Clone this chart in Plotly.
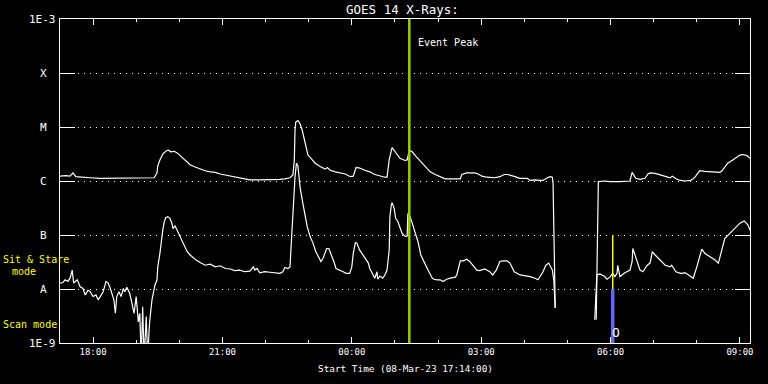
import math
import pandas as pd
import plotly.graph_objects as go

# ---------------- data ----------------
start_time = "2023-03-08 17:14:00"
end_time = "2023-03-09 09:14:00"

# long channel (1-8 A): minutes after start, log10 flux (W/m^2); None = data gap
long_minutes = [
    0, 8, 14, 18, 22, 28, 42, 56, 70, 84,
    93, 97, 111, 125, 131, 135, 136, 139, 143, 148,
    151, 154, 159, 163, 170, 175, 181, 188, 195, 202,
    209, 216, 223, 230, 237, 250, 264, 278, 292, 306,
    313, 320, 324, 326, 327, 328, 331, 334, 337, 341,
    345, 351, 355, 362, 369, 372, 376, 383, 390, 397,
    404, 408, 412, 417, 424, 431, 438, 445, 452, 455,
    458, 462, 466, 470, 473, 480, 483, 486, 490, 495,
    501, 508, 515, 522, 529, 536, 557, 559, 566, 577,
    582, 587, 594, 605, 612, 618, 623, 629, 633, 640,
    650, 654, 661, 668, 672, 678, 682, 685, 686, 689,
    716, 746, 749, 758, 765, 779, 790, 793, 796, 801,
    807, 814, 818, 821, 828, 835, 842, 849, 852, 857,
    863, 870, 877, 881, 884, 888, 890, 897, 904, 911,
    918, 921, 925, 929, 936, 943, 946, 950, 956, 960,
]
long_log10_flux = [
    -5.91, -5.90, -5.91, -5.85, -5.92, -5.93, -5.94, -5.95, -5.95, -5.95,
    -5.94, -5.95, -5.95, -5.95, -5.94, -5.85, -5.72, -5.61, -5.50, -5.44,
    -5.43, -5.46, -5.45, -5.48, -5.56, -5.63, -5.70, -5.74, -5.78, -5.81,
    -5.83, -5.84, -5.87, -5.89, -5.91, -5.94, -5.98, -5.98, -5.98, -5.97,
    -5.96, -5.94, -5.89, -5.61, -5.06, -4.91, -4.88, -4.94, -5.06, -5.30,
    -5.52, -5.61, -5.67, -5.73, -5.78, -5.75, -5.80, -5.83, -5.85, -5.87,
    -5.92, -5.91, -5.75, -5.76, -5.80, -5.83, -5.88, -5.91, -5.93, -5.93,
    -5.61, -5.38, -5.46, -5.52, -5.58, -5.62, -5.61, -5.43, -5.46, -5.54,
    -5.63, -5.74, -5.83, -5.88, -5.92, -5.96, -5.96, -5.88, -5.85, -5.85,
    -5.87, -5.91, -5.93, -5.94, -5.92, -5.88, -5.88, -5.91, -5.92, -5.95,
    -5.95, -5.99, -5.98, -5.99, -5.99, -5.94, -5.92, -5.93, -6.04, -8.35,
    None, -8.57, -6.01, -6.00, -6.01, -6.01, -6.01, -6.00, -5.84, -5.95,
    -5.97, -5.95, -5.87, -5.85, -5.86, -5.89, -5.92, -5.94, -5.91, -5.96,
    -5.99, -6.00, -5.99, -5.96, -5.92, -5.83, -5.81, -5.82, -5.83, -5.84,
    -5.84, -5.81, -5.74, -5.67, -5.61, -5.55, -5.52, -5.51, -5.53, -5.58,
]

# short channel (0.5-4 A): minutes after start, log10 flux (W/m^2); None = data gap
short_minutes = [
    0, 4, 7, 11, 14, 17, 19, 24, 28, 32,
    35, 39, 42, 46, 50, 53, 56, 60, 64, 67,
    70, 72, 75, 77, 79, 82, 85, 88, 90, 93,
    97, 100, 103, 106, 109, 111, 113, 115, 117, 120,
    122, 124, 125, 128, 129, 132, 135, 136, 139, 141,
    143, 145, 147, 150, 153, 156, 157, 160, 164, 168,
    173, 177, 181, 185, 189, 195, 202, 209, 216, 223,
    230, 237, 243, 250, 257, 264, 269, 271, 274, 278,
    285, 292, 299, 306, 310, 313, 317, 320, 321, 323,
    324, 327, 329, 331, 334, 337, 341, 344, 348, 352,
    356, 360, 363, 366, 369, 371, 374, 377, 381, 384,
    390, 394, 398, 403, 406, 408, 411, 413, 417, 420,
    424, 429, 431, 435, 438, 441, 442, 445, 449, 452,
    455, 458, 459, 461, 462, 465, 467, 470, 473, 476,
    480, 483, 484, 487, 490, 494, 498, 502, 507, 512,
    518, 520, 525, 529, 533, 538, 543, 550, 552, 557,
    561, 566, 570, 575, 580, 584, 591, 598, 602, 607,
    612, 616, 622, 626, 632, 640, 654, 661, 665, 672,
    676, 680, 685, 687, 689, 716, 744, 747, 751, 758,
    761, 765, 769, 772, 775, 776, 779, 786, 793, 796,
    797, 801, 807, 811, 817, 821, 824, 828, 835, 842,
    849, 851, 857, 863, 870, 877, 881, 886, 890, 893,
    897, 904, 911, 916, 921, 925, 932, 936, 940, 946,
    952, 957, 960,
]
short_log10_flux = [
    -7.89, -7.88, -7.83, -7.86, -7.80, -7.65, -7.89, -7.83, -7.96, -7.99,
    -8.11, -8.02, -8.05, -8.14, -8.11, -8.20, -8.14, -8.05, -7.86, -7.89,
    -7.99, -8.08, -8.20, -8.45, -8.14, -8.05, -8.14, -7.99, -8.05, -7.97,
    -8.08, -8.26, -8.45, -8.14, -8.61, -8.45, -9.30, -8.33, -9.30, -8.51,
    -9.30, -8.76, -8.57, -8.20, -8.11, -7.93, -7.83, -7.59, -7.34, -7.09,
    -6.91, -6.76, -6.68, -6.66, -6.69, -6.80, -6.88, -6.83, -6.94, -7.06,
    -7.19, -7.31, -7.37, -7.42, -7.46, -7.51, -7.56, -7.54, -7.59, -7.57,
    -7.62, -7.63, -7.66, -7.65, -7.68, -7.67, -7.59, -7.65, -7.62, -7.70,
    -7.68, -7.69, -7.70, -7.71, -7.68, -7.60, -7.62, -7.59, -7.34, -6.97,
    -6.63, -5.92, -5.67, -5.72, -6.11, -6.35, -6.60, -6.85, -7.03, -7.15,
    -7.31, -7.43, -7.49, -7.43, -7.31, -7.25, -7.25, -7.34, -7.49, -7.62,
    -7.65, -7.68, -7.71, -7.71, -7.59, -7.34, -7.14, -7.15, -7.28, -7.34,
    -7.43, -7.52, -7.62, -7.71, -7.80, -7.68, -7.82, -7.76, -7.80, -7.74,
    -7.65, -7.28, -6.66, -6.44, -6.40, -6.51, -6.69, -6.75, -6.88, -6.97,
    -7.02, -7.02, -6.60, -6.66, -6.78, -6.94, -7.12, -7.37, -7.52, -7.65,
    -7.80, -7.82, -7.83, -7.83, -7.86, -7.82, -7.80, -7.78, -7.74, -7.48,
    -7.48, -7.45, -7.49, -7.56, -7.65, -7.66, -7.63, -7.68, -7.74, -7.65,
    -7.49, -7.48, -7.48, -7.52, -7.68, -7.74, -7.77, -7.80, -7.83, -7.68,
    -7.56, -7.52, -7.65, -7.83, -8.35, None, -8.57, -7.74, -7.72, -7.77,
    -7.82, -7.78, -7.71, -7.77, -7.71, -7.56, -7.77, -7.70, -7.65, -7.49,
    -7.25, -7.40, -7.65, -7.68, -7.56, -7.52, -7.31, -7.37, -7.46, -7.56,
    -7.59, -7.56, -7.68, -7.71, -7.70, -7.77, -7.80, -7.59, -7.40, -7.26,
    -7.34, -7.40, -7.46, -7.52, -7.28, -7.06, -6.97, -6.91, -6.85, -6.78,
    -6.74, -6.81, -6.91,
]

# GOES class levels and labels
class_levels = [1e-9, 1e-8, 1e-7, 1e-6, 1e-5, 1e-4, 1e-3]
class_labels = ["1E-9", "A", "B", "C", "M", "X", "1E-3"]

event_peak_time = "2023-03-09 01:20:00"
mode_switch_time = "2023-03-09 06:03:00"
mode_marker_time = "2023-03-09 06:07:30"

title_text = "GOES 14 X-Rays:"
xlabel_text = "Start Time (08-Mar-23 17:14:00)"

# ---------------- build ----------------
t0 = pd.Timestamp(start_time)


def to_times(mins):
    return [t0 + pd.Timedelta(minutes=m) for m in mins]


def to_flux(logs):
    return [None if v is None else 10 ** v for v in logs]


WHITE = "#ffffff"
YELLOW = "#ffff00"
FONT = "DejaVu Sans Mono"

fig = go.Figure()

fig.add_trace(go.Scatter(
    x=to_times(long_minutes), y=to_flux(long_log10_flux), mode="lines",
    line=dict(color=WHITE, width=1.2), connectgaps=False, showlegend=False,
))
fig.add_trace(go.Scatter(
    x=to_times(short_minutes), y=to_flux(short_log10_flux), mode="lines",
    line=dict(color=WHITE, width=1.2), connectgaps=False, showlegend=False,
))

# observing-mode indicators
fig.add_trace(go.Scatter(
    x=[mode_switch_time, mode_switch_time], y=[class_levels[2], class_levels[1]],
    mode="lines", line=dict(color=YELLOW, width=1.5), showlegend=False,
))
fig.add_trace(go.Scatter(
    x=[mode_switch_time, mode_switch_time], y=[class_levels[1], class_levels[0]],
    mode="lines", line=dict(color="#6464ff", width=3.5), showlegend=False,
))

# event peak line
fig.add_shape(type="line", xref="x", yref="paper",
              x0=event_peak_time, x1=event_peak_time, y0=0, y1=1,
              line=dict(color="#9acd00", width=2.5))

ann = []
# y labels
for lvl, lab in zip(class_levels, class_labels):
    if lab.startswith("1E"):
        ann.append(dict(x=-0.003, xref="paper", y=math.log10(lvl), yref="y",
                        text=lab, xanchor="right", yanchor="middle",
                        showarrow=False, font=dict(color=WHITE, size=11, family=FONT)))
    else:
        ann.append(dict(x=-0.0232, xref="paper", y=math.log10(lvl), yref="y",
                        text=lab, xanchor="center", yanchor="middle",
                        showarrow=False, font=dict(color=WHITE, size=11, family=FONT)))

ann += [
    dict(x=0.496, xref="paper", y=1.028, yref="paper", text=title_text,
         showarrow=False, xanchor="center", yanchor="middle",
         font=dict(color=WHITE, size=12.5, family=FONT)),
    dict(x=event_peak_time, xref="x", y=0.926, yref="paper", text="Event Peak",
         xshift=7, showarrow=False, xanchor="left", yanchor="middle",
         font=dict(color=WHITE, size=10, family=FONT)),
    dict(x=0.5, xref="paper", y=-0.080, yref="paper", text=xlabel_text,
         showarrow=False, xanchor="center", yanchor="middle",
         font=dict(color=WHITE, size=9.4, family=FONT)),
    dict(x=-0.086, xref="paper", y=0.259, yref="paper", text="Sit & Stare",
         showarrow=False, xanchor="left", yanchor="middle",
         font=dict(color=YELLOW, size=10, family=FONT)),
    dict(x=-0.0522, xref="paper", y=0.222, yref="paper", text="mode",
         showarrow=False, xanchor="center", yanchor="middle",
         font=dict(color=YELLOW, size=10, family=FONT)),
    dict(x=-0.086, xref="paper", y=0.0586, yref="paper", text="Scan mode",
         showarrow=False, xanchor="left", yanchor="middle",
         font=dict(color=YELLOW, size=10, family=FONT)),
    dict(x=mode_marker_time, xref="x", y=-8.81, yref="y", text="O",
         showarrow=False, xanchor="center", yanchor="middle",
         font=dict(color=WHITE, size=13, family=FONT)),
]

fig.update_layout(
    width=768, height=384,
    margin=dict(l=60, r=18, t=19, b=41, pad=0),
    paper_bgcolor="black", plot_bgcolor="black",
    showlegend=False,
    annotations=ann,
    font=dict(family=FONT, color=WHITE),
)

fig.update_xaxes(
    type="date", range=[start_time, end_time],
    tick0="2023-03-08 18:00:00", dtick=3 * 3600 * 1000, tickformat="%H:%M",
    ticks="inside", ticklen=6, tickwidth=1, tickcolor=WHITE,
    minor=dict(dtick=3600 * 1000, ticks="inside", ticklen=3, tickcolor=WHITE, tickwidth=1, showgrid=False),
    showgrid=False, zeroline=False,
    showline=True, linecolor=WHITE, linewidth=1, mirror="ticks",
    tickfont=dict(color=WHITE, size=9, family=FONT),
)
fig.update_yaxes(
    type="log", range=[-9, -3],
    tickvals=class_levels, showticklabels=False,
    ticks="inside", ticklen=15, tickwidth=1, tickcolor=WHITE,
    showgrid=True, gridcolor=WHITE, gridwidth=1, griddash="1px,5px",
    zeroline=False,
    showline=True, linecolor=WHITE, linewidth=1, mirror="ticks",
)

fig.write_html("out.html")
